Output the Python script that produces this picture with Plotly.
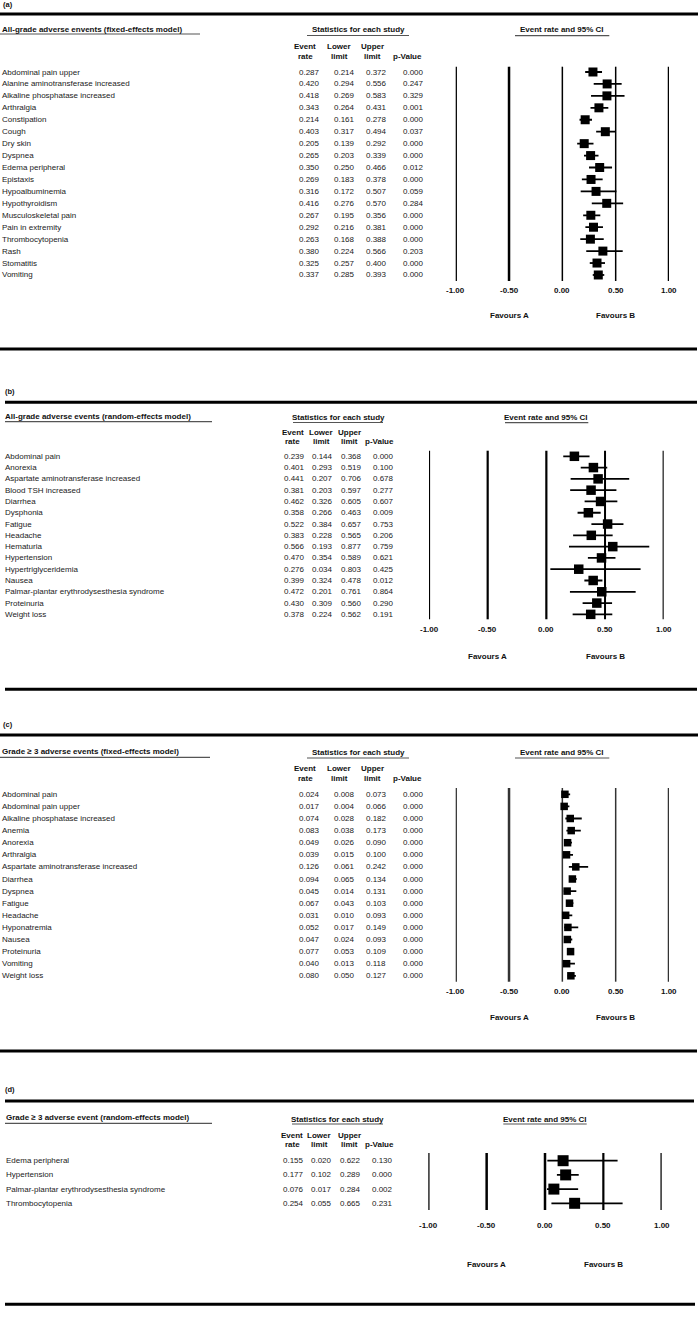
import plotly.graph_objects as go

W, H = 700, 1320
FONT = "Liberation Sans, Arial, sans-serif"

# ---------------- data ----------------
A_LABELS = ["Abdominal pain upper", "Alanine aminotransferase increased", "Alkaline phosphatase increased",
            "Arthralgia", "Constipation", "Cough", "Dry skin", "Dyspnea", "Edema peripheral", "Epistaxis",
            "Hypoalbuminemia", "Hypothyroidism", "Musculoskeletal pain", "Pain in extremity",
            "Thrombocytopenia", "Rash", "Stomatitis", "Vomiting"]
A_RATE = [0.287, 0.420, 0.418, 0.343, 0.214, 0.403, 0.205, 0.265, 0.350, 0.269, 0.316, 0.416, 0.267, 0.292, 0.263, 0.380, 0.325, 0.337]
A_LOWER = [0.214, 0.294, 0.269, 0.264, 0.161, 0.317, 0.139, 0.203, 0.250, 0.183, 0.172, 0.276, 0.195, 0.216, 0.168, 0.224, 0.257, 0.285]
A_UPPER = [0.372, 0.556, 0.583, 0.431, 0.278, 0.494, 0.292, 0.339, 0.466, 0.378, 0.507, 0.570, 0.356, 0.381, 0.388, 0.566, 0.400, 0.393]
A_P = [0.000, 0.247, 0.329, 0.001, 0.000, 0.037, 0.000, 0.000, 0.012, 0.000, 0.059, 0.284, 0.000, 0.000, 0.000, 0.203, 0.000, 0.000]

B_LABELS = ["Abdominal pain", "Anorexia", "Aspartate aminotransferase increased", "Blood TSH increased",
            "Diarrhea", "Dysphonia", "Fatigue", "Headache", "Hematuria", "Hypertension",
            "Hypertriglyceridemia", "Nausea", "Palmar-plantar erythrodysesthesia syndrome",
            "Proteinuria", "Weight loss"]
B_RATE = [0.239, 0.401, 0.441, 0.381, 0.462, 0.358, 0.522, 0.383, 0.566, 0.470, 0.276, 0.399, 0.472, 0.430, 0.378]
B_LOWER = [0.144, 0.293, 0.207, 0.203, 0.326, 0.266, 0.384, 0.228, 0.193, 0.354, 0.034, 0.324, 0.201, 0.309, 0.224]
B_UPPER = [0.368, 0.519, 0.706, 0.597, 0.605, 0.463, 0.657, 0.565, 0.877, 0.589, 0.803, 0.478, 0.761, 0.560, 0.562]
B_P = [0.000, 0.100, 0.678, 0.277, 0.607, 0.009, 0.753, 0.206, 0.759, 0.621, 0.425, 0.012, 0.864, 0.290, 0.191]

C_LABELS = ["Abdominal pain", "Abdominal pain upper", "Alkaline phosphatase increased", "Anemia", "Anorexia",
            "Arthralgia", "Aspartate aminotransferase increased", "Diarrhea", "Dyspnea", "Fatigue",
            "Headache", "Hyponatremia", "Nausea", "Proteinuria", "Vomiting", "Weight loss"]
C_RATE = [0.024, 0.017, 0.074, 0.083, 0.049, 0.039, 0.126, 0.094, 0.045, 0.067, 0.031, 0.052, 0.047, 0.077, 0.040, 0.080]
C_LOWER = [0.008, 0.004, 0.028, 0.038, 0.026, 0.015, 0.061, 0.065, 0.014, 0.043, 0.010, 0.017, 0.024, 0.053, 0.013, 0.050]
C_UPPER = [0.073, 0.066, 0.182, 0.173, 0.090, 0.100, 0.242, 0.134, 0.131, 0.103, 0.093, 0.149, 0.093, 0.109, 0.118, 0.127]
C_P = [0.000, 0.000, 0.000, 0.000, 0.000, 0.000, 0.000, 0.000, 0.000, 0.000, 0.000, 0.000, 0.000, 0.000, 0.000, 0.000]

D_LABELS = ["Edema peripheral", "Hypertension", "Palmar-plantar erythrodysesthesia syndrome", "Thrombocytopenia"]
D_RATE = [0.155, 0.177, 0.076, 0.254]
D_LOWER = [0.020, 0.102, 0.017, 0.055]
D_UPPER = [0.622, 0.289, 0.284, 0.665]
D_P = [0.130, 0.000, 0.002, 0.231]

TICK_VALUES = [-1.0, -0.5, 0.0, 0.5, 1.0]
TICK_LABELS = ["-1.00", "-0.50", "0.00", "0.50", "1.00"]
COL_HEADERS = [("Event", "rate"), ("Lower", "limit"), ("Upper", "limit"), ("", "p-Value")]
FAVOURS = ["Favours A", "Favours B"]
STATS_TITLE = "Statistics for each study"
CI_TITLE = "Event rate and 95% CI"


def fx(px):
    return px / W


def fy(py):
    return 1 - py / H


panels = [
    dict(tag="(a)", title="All-grade adverse envents (fixed-effects model)",
         labels=A_LABELS, rate=A_RATE, lo=A_LOWER, hi=A_UPPER, p=A_P,
         tag_x=2, tag_y=4.5, top_line=(14, 0, 698), bot_line=(349, 0, 697),
         title_x=1, title_y=29, title_ul=(0, 200, 34),
         stats_x=358, stats_y=30, stats_ul=(307, 409, 35.5),
         hdr_x=(305, 339, 372, 407), hdr_y=(46.7, 56),
         val_x=(309.5, 344, 376, 413), lab_x=1,
         row0=72, dy=11.94, axis_px=(455.7, 669), line_top=66.7, line_bot=281,
         tick_y=290, fav_y=315, ci_title_y=30, ci_ul=(515, 609.3, 35.7),
         msize=9, lw=(2.5, 2.5, 1.5, 1.5, 2.5), lcolor="#000"),
    dict(tag="(b)", title="All-grade adverse events (random-effects model)",
         labels=B_LABELS, rate=B_RATE, lo=B_LOWER, hi=B_UPPER, p=B_P,
         tag_x=4, tag_y=391.7, top_line=(402.3, 5, 697), bot_line=(689.3, 5, 697),
         title_x=4, title_y=416.7, title_ul=(5, 212, 421.7),
         stats_x=338.3, stats_y=417.7, stats_ul=(293, 383, 422.5),
         hdr_x=(292.7, 321, 349.5, 380), hdr_y=(432.3, 441.7),
         val_x=(294.5, 322.5, 351.5, 383), lab_x=4,
         row0=456.3, dy=11.29, axis_px=(429, 663.7), line_top=450.7, line_bot=619.3,
         tick_y=629.3, fav_y=656, ci_title_y=417.7, ci_ul=(505, 588.3, 422.7),
         msize=9.5, lw=(2.2, 2.2, 2.2, 2, 2.2), lcolor="#000"),
    dict(tag="(c)", title="Grade \u2265 3 adverse events (fixed-effects model)",
         labels=C_LABELS, rate=C_RATE, lo=C_LOWER, hi=C_UPPER, p=C_P,
         tag_x=2, tag_y=724, top_line=(735, 0, 698), bot_line=(1051, 0, 697),
         title_x=1, title_y=751.7, title_ul=(0, 210, 757.3),
         stats_x=358, stats_y=752.3, stats_ul=(307, 409, 758),
         hdr_x=(305, 339, 372, 407), hdr_y=(768.3, 778.3),
         val_x=(309.5, 344, 376, 413), lab_x=1,
         row0=794.3, dy=12.1, axis_px=(455.7, 669), line_top=788, line_bot=981.7,
         tick_y=991.7, fav_y=1017.7, ci_title_y=752.3, ci_ul=(515, 609.3, 758),
         msize=7.5, lw=(2.5, 2.5, 1.5, 1.5, 2.5), lcolor="#333"),
    dict(tag="(d)", title="Grade \u2265 3 adverse event (random-effects model)",
         labels=D_LABELS, rate=D_RATE, lo=D_LOWER, hi=D_UPPER, p=D_P,
         tag_x=4, tag_y=1089.3, top_line=(1101, 5, 694), bot_line=(1304.3, 5, 695),
         title_x=4.5, title_y=1117.7, title_ul=(5, 212, 1123.3),
         stats_x=337.7, stats_y=1119.3, stats_ul=(292, 383, 1124),
         hdr_x=(292, 319, 349, 380), hdr_y=(1135.3, 1144.3),
         val_x=(293.8, 321.8, 350.8, 382.5), lab_x=4.5,
         row0=1160.7, dy=14.2, axis_px=(428.3, 661.7), line_top=1153, line_bot=1210,
         tick_y=1225.7, fav_y=1264, ci_title_y=1119.3, ci_ul=(503.3, 586.7, 1124),
         msize=11, lw=(2.5, 2.5, 2.5, 2.2, 2.5), lcolor="#000"),
]

fig = go.Figure()
annotations = []
shapes = []
layout_axes = {}


def txt(text, x, y, xref="paper", yref="paper", size=8, bold=False, xanchor="center", color="#111"):
    annotations.append(dict(
        text=("<b>%s</b>" % text) if bold else text, x=x, y=y, xref=xref, yref=yref,
        showarrow=False, xanchor=xanchor, yanchor="middle",
        font=dict(family=FONT, size=size, color=color), borderpad=0))


def hline(y, x0, x1, width, color="#000"):
    shapes.append(dict(type="line", xref="paper", yref="paper", x0=fx(x0), x1=fx(x1),
                       y0=fy(y), y1=fy(y), line=dict(color=color, width=width)))


for k, P in enumerate(panels, start=1):
    suffix = "" if k == 1 else str(k)
    xa, ya = "x" + suffix, "y" + suffix
    n = len(P["labels"])
    layout_axes["xaxis" + suffix] = dict(domain=[fx(P["axis_px"][0]), fx(P["axis_px"][1])],
                                         range=[TICK_VALUES[0], TICK_VALUES[-1]], visible=False,
                                         anchor=ya)
    layout_axes["yaxis" + suffix] = dict(domain=[fy(P["line_bot"]), fy(P["line_top"])],
                                         range=[(P["line_bot"] - P["row0"]) / P["dy"],
                                                (P["line_top"] - P["row0"]) / P["dy"]],
                                         visible=False, anchor=xa)
    # vertical reference lines
    for tv, w in zip(TICK_VALUES, P["lw"]):
        shapes.append(dict(type="line", xref=xa, yref=ya + " domain", x0=tv, x1=tv, y0=0, y1=1,
                           line=dict(color=P["lcolor"], width=w), layer="below"))
    # confidence intervals
    xs, ys = [], []
    for i in range(n):
        xs += [P["lo"][i], P["hi"][i], None]
        ys += [i, i, None]
    fig.add_trace(go.Scatter(x=xs, y=ys, mode="lines", xaxis=xa, yaxis=ya, cliponaxis=False,
                             line=dict(color="#000", width=1.8), hoverinfo="skip"))
    fig.add_trace(go.Scatter(x=P["rate"], y=list(range(n)), mode="markers", xaxis=xa, yaxis=ya,
                             cliponaxis=False,
                             marker=dict(symbol="square", size=P["msize"], color="#000"),
                             text=P["labels"], hovertemplate="%{text}: %{x:.3f}<extra></extra>"))
    # row texts
    for i in range(n):
        txt(P["labels"][i], fx(P["lab_x"]), i, yref=ya, xanchor="left", color="#222")
        for col, vals in enumerate([P["rate"], P["lo"], P["hi"], P["p"]]):
            txt("%.3f" % vals[i], fx(P["val_x"][col]), i, yref=ya, color="#222")
    # headers
    txt(P["tag"], fx(P["tag_x"]), fy(P["tag_y"]), bold=True, xanchor="left", size=7.5)
    hline(P["top_line"][0], P["top_line"][1], P["top_line"][2], 3)
    hline(P["bot_line"][0], P["bot_line"][1], P["bot_line"][2], 3)
    txt(P["title"], fx(P["title_x"]), fy(P["title_y"]), bold=True, xanchor="left")
    hline(P["title_ul"][2], P["title_ul"][0], P["title_ul"][1], 1.2, "#555")
    txt(STATS_TITLE, fx(P["stats_x"]), fy(P["stats_y"]), bold=True)
    hline(P["stats_ul"][2], P["stats_ul"][0], P["stats_ul"][1], 1.2, "#555")
    for (h1, h2), hx in zip(COL_HEADERS, P["hdr_x"]):
        if h1:
            txt(h1, fx(hx), fy(P["hdr_y"][0]), bold=True)
        txt(h2, fx(hx), fy(P["hdr_y"][1]), bold=True)
    txt(CI_TITLE, 0, fy(P["ci_title_y"]), xref=xa, bold=True)
    hline(P["ci_ul"][2], P["ci_ul"][0], P["ci_ul"][1], 1.2, "#555")
    for tv, tl in zip(TICK_VALUES, TICK_LABELS):
        txt(tl, tv, fy(P["tick_y"]), xref=xa, bold=True)
    txt(FAVOURS[0], TICK_VALUES[1], fy(P["fav_y"]), xref=xa, bold=True)
    txt(FAVOURS[1], TICK_VALUES[3], fy(P["fav_y"]), xref=xa, bold=True)

fig.update_layout(
    width=W, height=H, margin=dict(l=0, r=0, t=0, b=0),
    paper_bgcolor="#fff", plot_bgcolor="#fff", showlegend=False,
    annotations=annotations, shapes=shapes, font=dict(family=FONT, size=8, color="#111"),
    **layout_axes)

fig.write_html("out.html", config={"displayModeBar": False, "staticPlot": False},
               post_script="document.body.style.margin='0';")
